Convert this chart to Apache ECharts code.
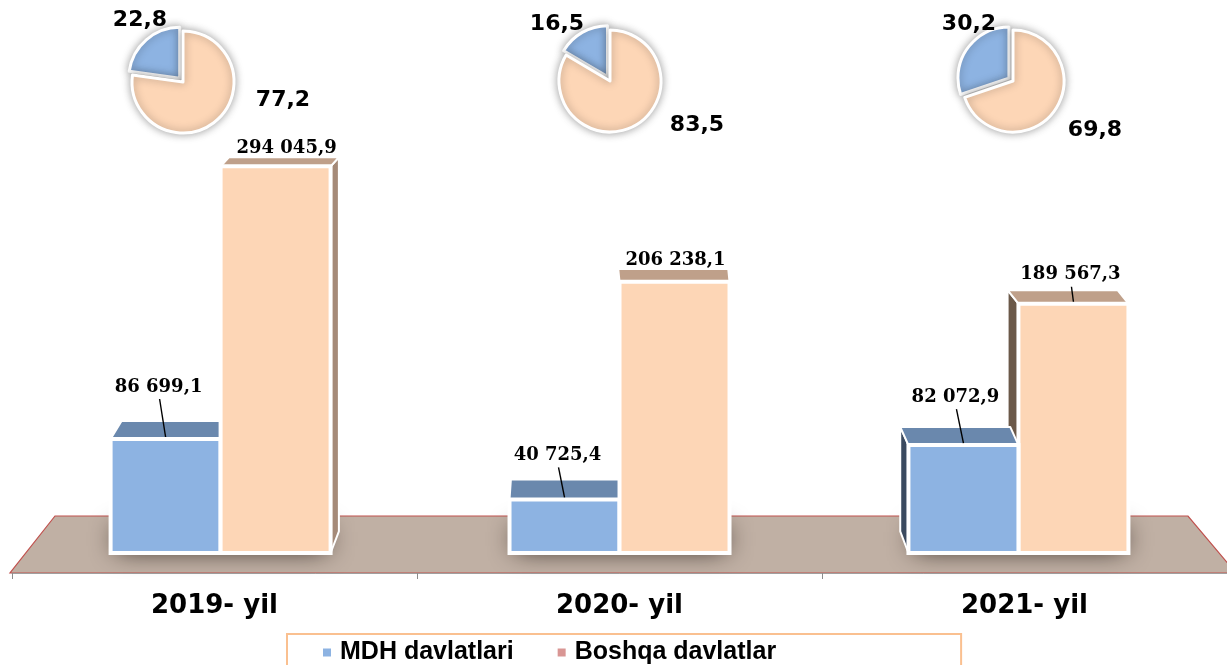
<!DOCTYPE html>
<html><head><meta charset="utf-8">
<script src="https://cdn.jsdelivr.net/npm/echarts@6/dist/echarts.min.js"></script>
<style>html,body{margin:0;padding:0;background:#fff}#c{width:1227px;height:665px}</style>
</head><body><div id="c"></div>
<script>
// ---- data ----
const categories = ['2019- yil', '2020- yil', '2021- yil'];
const seriesNames = ['MDH davlatlari', 'Boshqa davlatlar'];
const mdhValues = [86699.1, 40725.4, 82072.9];
const boshqaValues = [294045.9, 206238.1, 189567.3];
const mdhShares = [22.8, 16.5, 30.2];
const boshqaShares = [77.2, 83.5, 69.8];

// ---- layout / style config ----
const BAR_W = 110;
const VP_X = 621, PERSP = 0.985;
const COLORS = [
  {front: '#8db3e2', top: '#6a88ad', side: '#3b4a5f'},
  {front: '#fdd6b6', top: '#bfa08a', side: '#a58a78', sideL: '#6b5949'}
];
const labelOffsets = [
  [[-7, -52], [-7, -44], [-8, -48]],
  [[11, -18], [1, -21], [-3, -29]]
];
const pieCenters = [[183, 82], [610, 81], [1013, 81]];
const PIE_R = 51, EXPLODE = 5;
const pieLabelPos = [
  [[140, 20], [283, 100]],
  [[557, 24], [697, 125]],
  [[969, 24], [1095, 130]]
];

function fmtNum(v) {
  const parts = v.toFixed(1).split('.');
  return parts[0].replace(/\B(?=(\d{3})+(?!\d))/g, ' ') + ',' + parts[1];
}
function fmtShare(v) { return v.toFixed(1).replace('.', ','); }

function makeRender(sIdx) {
  return function (params, api) {
    const ci = api.value(0);
    const val = api.value(1);
    const base = api.coord([ci, 0]);
    const top = api.coord([ci, val]);
    const cx = VP_X + (base[0] - VP_X) * PERSP;
    const x0 = sIdx === 0 ? cx - BAR_W : cx;
    const x1 = x0 + BAR_W;
    const yT = top[1], yB = base[1];
    const mid = (x0 + x1) / 2;
    const dx = (VP_X - mid) * 0.024;
    const dT = 0.0323 * (yT + 116);
    const dB = 0.0323 * (yB + 116);
    const col = COLORS[sIdx];
    const leftSide = cx < VP_X;
    const zb = leftSide ? (sIdx === 0 ? 10 : 20) : (sIdx === 0 ? 20 : 10);
    const children = [];
    if (sIdx === 0) {
      children.push({
        type: 'rect', z2: 1,
        shape: {x: cx - BAR_W + 6, y: yB - 24, width: 2 * BAR_W - 10, height: 20},
        style: {fill: '#3f342e', shadowBlur: 26, shadowColor: 'rgba(20,12,8,1)'}
      });
    }
    if (Math.abs(dx) > 2) {
      const xs = dx > 0 ? x1 : x0;
      children.push({
        type: 'polygon', z2: zb,
        shape: {points: [[xs, yT], [xs + dx, yT - dT], [xs + dx, yB - dB], [xs, yB]]},
        style: {fill: dx > 0 ? col.side : (col.sideL || col.side), stroke: '#fff', lineWidth: 2, lineJoin: 'round'}
      });
    }
    children.push({
      type: 'polygon', z2: zb + 1,
      shape: {points: [[x0, yT], [x0 + dx, yT - dT], [x1 + dx, yT - dT], [x1, yT]]},
      style: {fill: col.top, stroke: '#fff', lineWidth: 2, lineJoin: 'round'}
    });
    children.push({
      type: 'rect', z2: zb + 2,
      shape: {x: x0, y: yT, width: x1 - x0, height: yB - yT},
      style: {fill: col.front, stroke: '#fff', lineWidth: 4}
    });
    const off = labelOffsets[sIdx][ci];
    const lx = mid + off[0], ly = yT + off[1];
    if (yT - 2 - (ly + 12) > 8) {
      children.push({
        type: 'line', z2: 40,
        shape: {x1: lx + 1, y1: ly + 12, x2: mid, y2: yT - 2},
        style: {stroke: '#000', lineWidth: 1.4}
      });
    }
    children.push({
      type: 'text', z2: 41, x: lx, y: ly,
      style: {text: fmtNum(val), fill: '#000', font: 'bold 18px "DejaVu Serif", serif', align: 'center', verticalAlign: 'middle'}
    });
    return {type: 'group', children: children};
  };
}

const barSeries = [mdhValues, boshqaValues].map(function (vals, s) {
  return {
    type: 'custom', name: seriesNames[s],
    renderItem: makeRender(s),
    encode: {x: 0, y: 1},
    itemStyle: {color: COLORS[s].front},
    data: vals.map(function (v, i) { return [i, v]; })
  };
});

// Each pie = two overlaid pie series: the Boshqa slice at the centre, the MDH slice pulled out
const pieSeries = [];
mdhShares.forEach(function (m, i) {
  const b = boshqaShares[i];
  const midRad = (90 + (m / (m + b)) * 180) * Math.PI / 180;
  const c = pieCenters[i];
  const centers = [
    [c[0] + EXPLODE * Math.cos(midRad), c[1] - EXPLODE * Math.sin(midRad)],
    c
  ];
  const hidden = {color: 'rgba(0,0,0,0)', borderWidth: 0, shadowBlur: 0};
  [0, 1].forEach(function (k) {
    pieSeries.push({
      type: 'pie', radius: PIE_R, center: centers[k],
      startAngle: 90, clockwise: false,
      emphasis: {disabled: true}, silent: true,
      itemStyle: {borderColor: '#fff', borderWidth: 3, shadowBlur: 8, shadowColor: 'rgba(0,0,0,0.35)'},
      label: {
        show: true, position: 'outside', color: '#000',
        fontFamily: '"DejaVu Sans", sans-serif', fontWeight: 'bold', fontSize: 22,
        formatter: function (p) { return fmtShare(p.value); }
      },
      labelLine: {show: false},
      labelLayout: function (p) {
        const pos = pieLabelPos[i][p.dataIndex];
        return {x: pos[0], y: pos[1], align: 'center', verticalAlign: 'middle'};
      },
      data: [
        {name: seriesNames[0], value: m,
         itemStyle: k === 0 ? {color: COLORS[0].front} : hidden, label: {show: k === 0}},
        {name: seriesNames[1], value: b,
         itemStyle: k === 1 ? {color: COLORS[1].front} : hidden, label: {show: k === 1}}
      ]
    });
  });
});

const chart = echarts.init(document.getElementById('c'), null, {renderer: 'canvas'});
chart.setOption({
  animation: false,
  backgroundColor: '#fff',
  grid: {left: 12, right: -3, top: 27, bottom: 92},
  graphic: [{
    type: 'polygon', z: 0, silent: true,
    shape: {points: [[55, 516], [1188, 516], [1236, 573], [10, 573]]},
    style: {fill: '#c0b0a4', stroke: '#c0504d', lineWidth: 1.2}
  }],
  xAxis: {
    type: 'category', data: categories,
    axisLine: {show: true, onZero: false, lineStyle: {color: '#a0a0a0', width: 1}},
    axisTick: {show: true, length: 6, lineStyle: {color: '#8c8c8c'}},
    axisLabel: {margin: 20, color: '#000', fontFamily: '"DejaVu Sans", sans-serif', fontWeight: 'bold', fontSize: 26}
  },
  yAxis: {type: 'value', min: -15200, max: 400000, show: false, splitLine: {show: false}},
  legend: {
    data: [
      {name: seriesNames[0], itemStyle: {color: '#8db3e2'}},
      {name: seriesNames[1], itemStyle: {color: '#d99694'}}
    ],
    left: 287, top: 634, orient: 'horizontal',
    padding: [6, 185, 20, 36],
    itemGap: 44, itemWidth: 8, itemHeight: 8, icon: 'rect',
    borderColor: '#fac090', borderWidth: 2,
    selectedMode: false,
    textStyle: {fontFamily: '"Liberation Sans", Arial, sans-serif', fontWeight: 'bold', fontSize: 25, color: '#000', padding: [0, 0, 0, 4]}
  },
  series: barSeries.concat(pieSeries)
});
</script></body></html>
